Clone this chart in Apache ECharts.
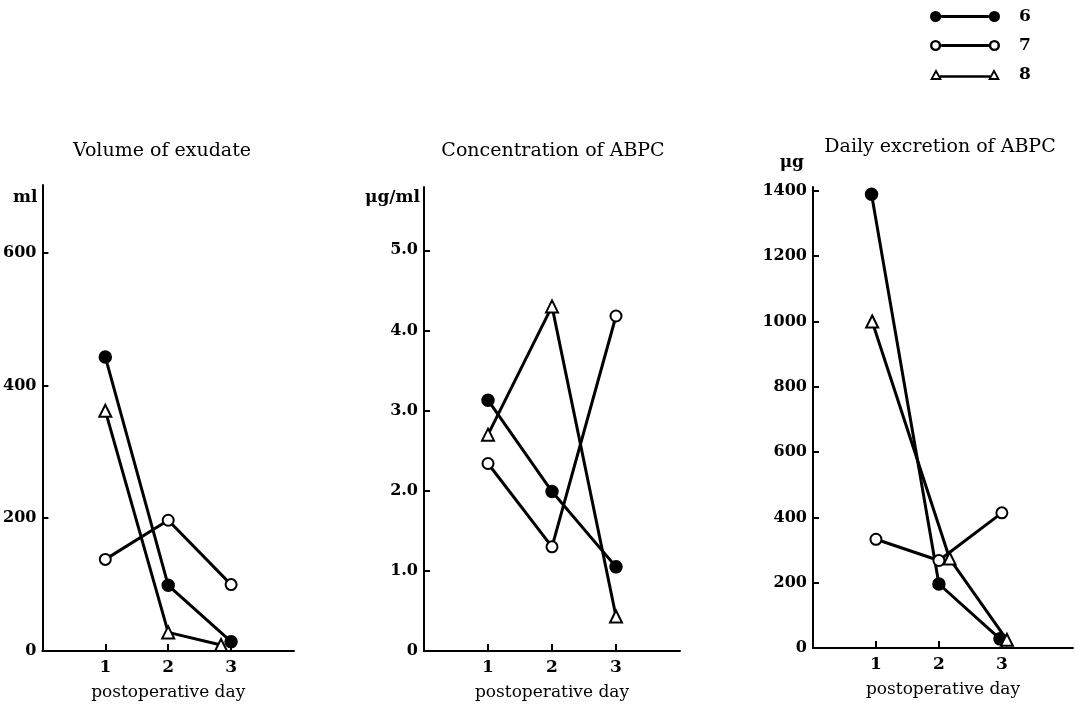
<!DOCTYPE html>
<html>
<head>
<meta charset="utf-8">
<script src="https://cdn.jsdelivr.net/npm/echarts@6/dist/echarts.min.js"></script>
<style>
  html, body { margin: 0; padding: 0; background: #fff; }
  #chart { width: 1075px; height: 706px; }
</style>
</head>
<body>
<div id="chart"></div>
<script>
var days = [1, 2, 3];
var names = ['6', '7', '8'];
var titles = ['Volume of exudate', 'Concentration of ABPC', 'Daily excretion of ABPC'];
var units = ['ml', 'μg/ml', 'μg'];

// volume of exudate (ml)
var volDays6 = [1, 2, 3],    vol6 = [443, 99, 14];
var volDays7 = [1, 2, 3],    vol7 = [138, 197, 100];
var volDays8 = [1, 2, 2.84], vol8 = [362, 28, 9];
var volTicks = [0, 200, 400, 600];

// concentration of ABPC (μg/ml)
var concDays6 = [1, 2, 3], conc6 = [3.13, 1.99, 1.05];
var concDays7 = [1, 2, 3], conc7 = [2.34, 1.30, 4.18];
var concDays8 = [1, 2, 3], conc8 = [2.70, 4.30, 0.43];
var concTicks = [0, 1, 2, 3, 4, 5];

// daily excretion of ABPC (μg)
var excDays6 = [0.93, 2, 2.97], exc6 = [1390, 196, 28];
var excDays7 = [1, 2, 3],       exc7 = [333, 268, 414];
var excDays8 = [0.94, 2.17, 3.08], exc8 = [1000, 274, 25];
var excTicks = [0, 200, 400, 600, 800, 1000, 1200, 1400];

var font = 'DejaVu Serif';

function pairs(xs, ys) {
    return ys.map(function (v, i) { return [xs[i], v]; });
}

var grids = [
    { left: 38,  top: 185, width: 256, height: 466 },
    { left: 424, top: 187, width: 256, height: 464 },
    { left: 813, top: 187, width: 260, height: 461 }
];
var xMax = [4, 4, 4.13];
var yMax = [702, 5.79, 1412];
var yTicks = [volTicks, concTicks, excTicks];
var unitGap = [-13, -11, 24];
var unitPad = [[0, 5, 0, 0], [0, 4, 0, 0], [0, 9, 0, 0]];
var titleX = [162, 553, 940];
var titleY = [151, 151, 147];

var ringPath = 'path://M0.5,6 A5.5,5.5 0 1,0 11.5,6 A5.5,5.5 0 1,0 0.5,6 Z M2.9,6 A3.1,3.1 0 1,1 9.1,6 A3.1,3.1 0 1,1 2.9,6 Z ' +
    'M58.5,6 A5.5,5.5 0 1,0 69.5,6 A5.5,5.5 0 1,0 58.5,6 Z M60.9,6 A3.1,3.1 0 1,1 67.1,6 A3.1,3.1 0 1,1 60.9,6 Z ' +
    'M11.5,4.6 L58.5,4.6 L58.5,7.4 L11.5,7.4 Z';
var dotPath = 'path://M0.5,6 A5.5,5.5 0 1,0 11.5,6 A5.5,5.5 0 1,0 0.5,6 Z M58.5,6 A5.5,5.5 0 1,0 69.5,6 A5.5,5.5 0 1,0 58.5,6 Z ' +
    'M11.5,4.6 L58.5,4.6 L58.5,7.4 L11.5,7.4 Z';
var triPath = 'path://M6,0.5 L12,11.5 L0,11.5 Z M6,4.4 L3.1,9.4 L8.9,9.4 Z ' +
    'M64,0.5 L70,11.5 L58,11.5 Z M64,4.4 L61.1,9.4 L66.9,9.4 Z ' +
    'M9.8,6.8 L60.2,6.8 L60.2,9.2 L9.8,9.2 Z';

var xAxes = [], yAxes = [], graphics = [];
grids.forEach(function (g, i) {
    xAxes.push({
        type: 'value', gridIndex: i, min: 0, max: xMax[i],
        axisLine: { show: true, onZero: false, lineStyle: { color: '#000', width: 2 } },
        axisTick: { show: true, inside: true, length: 7, customValues: days, lineStyle: { color: '#000', width: 2 } },
        axisLabel: { customValues: days, color: '#000', fontFamily: font, fontSize: 17, fontWeight: 'bold', margin: 8 },
        splitLine: { show: false },
        name: 'postoperative day', nameLocation: 'middle', nameGap: 33,
        nameTextStyle: { color: '#000', fontFamily: font, fontSize: 17 }
    });
    yAxes.push({
        type: 'value', gridIndex: i, min: 0, max: yMax[i],
        axisLine: { show: true, lineStyle: { color: '#000', width: 2 } },
        axisTick: { show: true, inside: true, length: 6, customValues: yTicks[i], lineStyle: { color: '#000', width: 2 } },
        axisLabel: {
            customValues: yTicks[i], color: '#000', fontFamily: font, fontSize: 16, fontWeight: 'bold', margin: 6,
            formatter: i === 1
                ? function (v) { return v === 0 ? '0' : v.toFixed(1); }
                : function (v) { return String(v); }
        },
        splitLine: { show: false },
        name: units[i], nameLocation: 'end', nameGap: unitGap[i],
        nameTextStyle: { color: '#000', fontFamily: font, fontSize: 17, fontWeight: 'bold', align: 'right', verticalAlign: 'middle', padding: unitPad[i] }
    });
    graphics.push({
        type: 'text', x: titleX[i], y: titleY[i],
        style: { text: titles[i], fill: '#000', font: '19px "DejaVu Serif"', textAlign: 'center', textVerticalAlign: 'middle' }
    });
});

var panels = [
    [pairs(volDays6, vol6), pairs(volDays7, vol7), pairs(volDays8, vol8)],
    [pairs(concDays6, conc6), pairs(concDays7, conc7), pairs(concDays8, conc8)],
    [pairs(excDays6, exc6), pairs(excDays7, exc7), pairs(excDays8, exc8)]
];
var symbols = ['circle', 'emptyCircle', 'emptyTriangle'];
var symbolSizes = [11, 11, 12];

var series = [];
panels.forEach(function (p, i) {
    p.forEach(function (d, k) {
        series.push({
            name: names[k], type: 'line', xAxisIndex: i, yAxisIndex: i,
            data: d, symbol: symbols[k], symbolSize: symbolSizes[k],
            lineStyle: { color: '#000', width: 3 },
            itemStyle: { color: '#000', borderColor: '#000', borderWidth: 2.5 },
            animation: false
        });
    });
});

var option = {
    backgroundColor: '#fff',
    animation: false,
    legend: {
        orient: 'vertical', left: 930, top: 8, padding: 0, itemWidth: 70, itemHeight: 13, itemGap: 12,
        textStyle: { color: '#000', fontFamily: font, fontSize: 17, fontWeight: 'bold', padding: [0, 0, 0, 14] },
        data: [
            { name: '6', icon: dotPath, itemStyle: { color: '#000', borderWidth: 0 } },
            { name: '7', icon: ringPath, itemStyle: { color: '#000', borderWidth: 0 } },
            { name: '8', icon: triPath, itemStyle: { color: '#000', borderWidth: 0 } }
        ]
    },
    grid: grids,
    xAxis: xAxes,
    yAxis: yAxes,
    graphic: graphics,
    series: series
};
echarts.init(document.getElementById('chart')).setOption(option);
</script>
</body>
</html>
